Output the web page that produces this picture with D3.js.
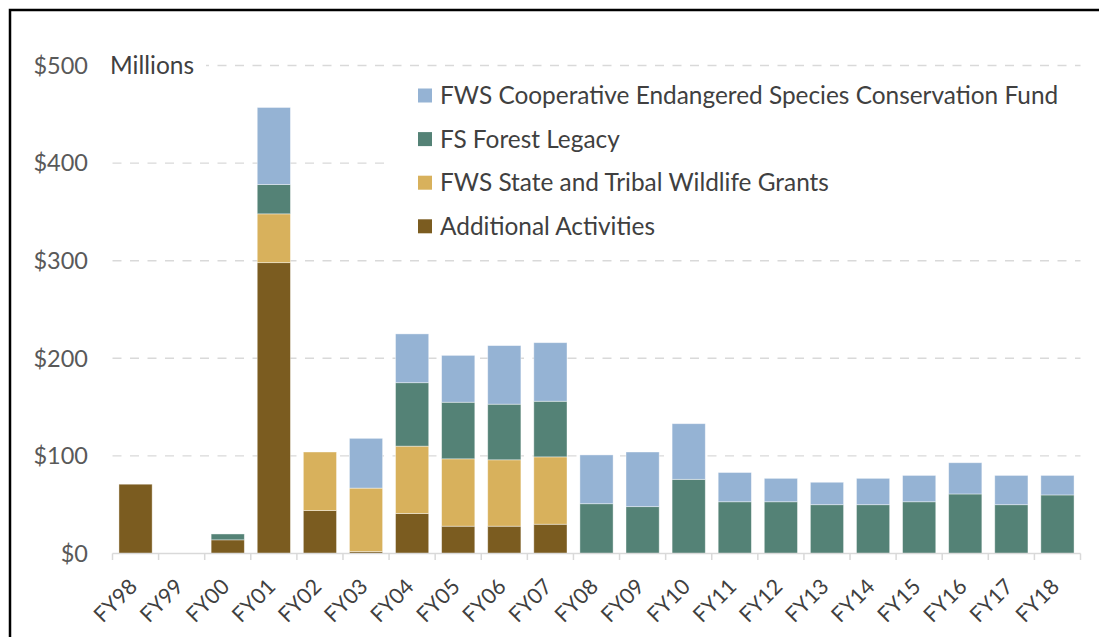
<!DOCTYPE html>
<html>
<head>
<meta charset="utf-8">
<script src="https://cdn.jsdelivr.net/npm/d3@7"></script>
<style>
  body { margin: 0; background: #fff; }
  text { font-family: Lato, "Open Sans", sans-serif; }
</style>
</head>
<body>
<div id="chart"></div>
<script>
// fiscal years
var years = ["FY98","FY99","FY00","FY01","FY02","FY03","FY04","FY05","FY06","FY07",
             "FY08","FY09","FY10","FY11","FY12","FY13","FY14","FY15","FY16","FY17","FY18"];

// $ millions
var additional = [71, 0, 14, 298, 44, 2, 41, 28, 28, 30, 0, 0, 0, 0, 0, 0, 0, 0, 0, 0, 0];
var tribal     = [0, 0, 0, 50, 60, 65, 69, 69, 68, 69, 0, 0, 0, 0, 0, 0, 0, 0, 0, 0, 0];
var legacy     = [0, 0, 6, 30, 0, 0, 65, 58, 57, 57, 51, 48, 76, 53, 53, 50, 50, 53, 61, 50, 60];
var cesf       = [0, 0, 0, 79, 0, 51, 50, 48, 60, 60, 50, 56, 57, 30, 24, 23, 27, 27, 32, 30, 20];

var seriesNames = ["Additional Activities", "FWS State and Tribal Wildlife Grants",
                   "FS Forest Legacy", "FWS Cooperative Endangered Species Conservation Fund"];
var yTicks = [0, 100, 200, 300, 400, 500];

function init()
{
  var w = 1099;
  var h = 637;

  var colors = ["#7b5c20", "#d8b15c", "#548276", "#95b3d4"];
  var keys = ["additional", "tribal", "legacy", "cesf"];

  var rows = years.map(function(y, i){
    return { year: y, additional: additional[i], tribal: tribal[i], legacy: legacy[i], cesf: cesf[i] };
  });

  var stacked = d3.stack().keys(keys)(rows);

  var x = d3.scaleBand()
            .domain(years)
            .range([112.5, 1080.5])
            .paddingInner(0.28)
            .paddingOuter(0.14);

  var y = d3.scaleLinear()
            .domain([0, 500])
            .range([553.5, 65.5]);

  var svg = d3.select("#chart")
              .append("svg")
              .attr("width", w)
              .attr("height", h);

  // frame
  svg.append("path")
     .attr("d", "M10,700 L10,10 L1120,10")
     .attr("fill", "none")
     .attr("stroke", "#000")
     .attr("stroke-width", 2.5);

  // gridlines
  svg.selectAll("line.grid")
     .data(yTicks.filter(function(d){ return d > 0; }))
     .enter()
     .append("line")
     .attr("class", "grid")
     .attr("x1", 112.5)
     .attr("x2", 1080.5)
     .attr("y1", function(d){ return y(d); })
     .attr("y2", function(d){ return y(d); })
     .attr("stroke", "#d9d9d9")
     .attr("stroke-width", 1.4)
     .attr("stroke-dasharray", "9,8.5");

  // units label box
  svg.append("rect")
     .attr("x", 100).attr("y", 50)
     .attr("width", 106).attr("height", 30)
     .attr("fill", "#fff");

  svg.append("text")
     .text("Millions")
     .attr("x", 110)
     .attr("y", y(500))
     .attr("dy", "0.35em")
     .attr("font-size", 24.5)
     .attr("fill", "#404040");

  // legend background covers grid
  svg.append("rect")
     .attr("x", 392).attr("y", 76)
     .attr("width", 690).attr("height", 172)
     .attr("fill", "#fff");

  // y axis labels
  svg.selectAll("text.ylab")
     .data(yTicks)
     .enter()
     .append("text")
     .attr("class", "ylab")
     .text(function(d){ return "$" + d; })
     .attr("x", 88)
     .attr("y", function(d){ return y(d); })
     .attr("dy", "0.35em")
     .attr("text-anchor", "end")
     .attr("font-size", 23.5)
     .attr("fill", "#595959");

  // bars
  var groups = svg.selectAll("g.series")
     .data(stacked)
     .enter()
     .append("g")
     .attr("fill", function(d, i){ return colors[i]; });

  groups.selectAll("rect")
     .data(function(d){ return d; })
     .enter()
     .append("rect")
     .filter(function(d){ return d[1] - d[0] > 0; })
     .attr("x", function(d){ return x(d.data.year); })
     .attr("width", x.bandwidth())
     .attr("y", function(d){ return y(d[1]); })
     .attr("height", function(d){ return y(d[0]) - y(d[1]); })
     .attr("stroke", "#fff")
     .attr("stroke-opacity", 0.5)
     .attr("stroke-width", 0.8);

  // x axis line and ticks
  svg.append("line")
     .attr("x1", 112.5).attr("x2", 1080.5)
     .attr("y1", 553.5).attr("y2", 553.5)
     .attr("stroke", "#d9d9d9")
     .attr("stroke-width", 1.5);

  var step = x.step();
  svg.selectAll("line.tick")
     .data(d3.range(years.length + 1))
     .enter()
     .append("line")
     .attr("class", "tick")
     .attr("x1", function(i){ return 112.5 + i * step; })
     .attr("x2", function(i){ return 112.5 + i * step; })
     .attr("y1", 553.5)
     .attr("y2", 560)
     .attr("stroke", "#d9d9d9")
     .attr("stroke-width", 1.5);

  // x labels, rotated
  svg.selectAll("text.xlab")
     .data(years)
     .enter()
     .append("text")
     .attr("class", "xlab")
     .text(function(d){ return d; })
     .attr("text-anchor", "end")
     .attr("font-size", 21.5)
     .attr("fill", "#404040")
     .attr("transform", function(d){
        var cx = x(d) + x.bandwidth() / 2 + 3;
        return "translate(" + cx + ",588) rotate(-45)";
     });

  // legend
  var legendTop = 95.5;
  var legendGap = 43.6;
  var legendOrder = [3, 2, 1, 0];

  var items = svg.selectAll("g.legend")
     .data(legendOrder)
     .enter()
     .append("g")
     .attr("transform", function(d, i){
        return "translate(418," + (legendTop + i * legendGap) + ")";
     });

  items.append("rect")
     .attr("x", 0).attr("y", -7)
     .attr("width", 14).attr("height", 14)
     .attr("fill", function(d){ return colors[d]; });

  items.append("text")
     .text(function(d){ return seriesNames[d]; })
     .attr("x", 22)
     .attr("dy", "0.36em")
     .attr("font-size", 24.4)
     .attr("fill", "#404040");
}

window.onload = init;
</script>
</body>
</html>
